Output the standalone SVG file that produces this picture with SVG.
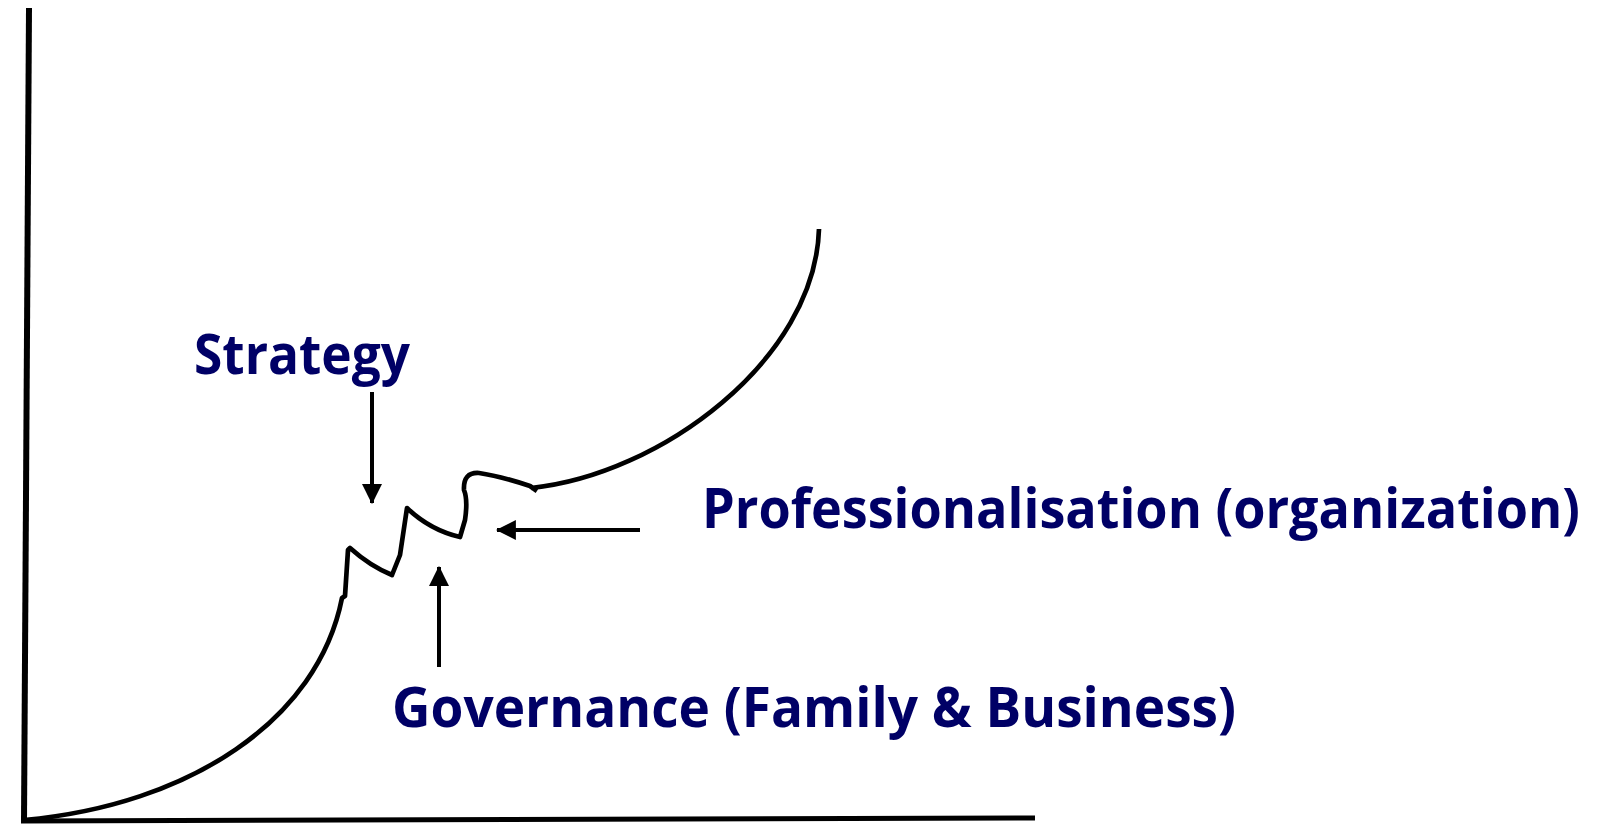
<svg xmlns="http://www.w3.org/2000/svg" width="1615" height="825" viewBox="0 0 1615 825">
<style>
.lbl{font-family:"Open Sans","Noto Sans","Liberation Sans",sans-serif;font-weight:700;font-size:56px;fill:#000066}
.ax{stroke:#000;fill:none;stroke-linecap:butt}
.cv{stroke:#000;stroke-width:4.7;fill:none;stroke-linejoin:round}
.ar{stroke:#000;stroke-width:4;fill:none}
</style>
<defs>
<marker id="ah" markerUnits="userSpaceOnUse" markerWidth="20" markerHeight="20" viewBox="0 0 18 18" refX="17" refY="9" orient="auto">
<path d="M0,0 L18,9 L0,18 Z" fill="#000"/>
</marker>
</defs>
<rect width="1615" height="825" fill="#fff"/>
<g id="axes">
<line class="ax" x1="29" y1="8" x2="24" y2="822" stroke-width="6"/>
<line class="ax" x1="21" y1="821" x2="1035" y2="818" stroke-width="5"/>
</g>
<g id="curve">
<path class="cv" d="M24,820 C190,805 318,720 342,598 L345,596 L348,550 L350,548 Q370,566 392,575 L400,555 L407,508 Q430,530 460,537 L465,520 Q468,500 464,490 Q463,472 479,473 Q500,476 530,486 L537,491 M531,488 C660,475 815,360 819,229"/>
</g>
<g id="connectors">
<line class="ar" x1="372" y1="392" x2="372" y2="503" marker-end="url(#ah)"/>
<line class="ar" x1="439" y1="667" x2="439" y2="567" marker-end="url(#ah)"/>
<line class="ar" x1="640" y1="530" x2="497" y2="530" marker-end="url(#ah)"/>
</g>
<g id="strategy"><text class="lbl" x="194" y="374" textLength="216" lengthAdjust="spacingAndGlyphs">Strategy</text></g>
<g id="professionalisation"><text class="lbl" x="702" y="528" textLength="878" lengthAdjust="spacingAndGlyphs">Professionalisation (organization)</text></g>
<g id="governance"><text class="lbl" x="392" y="727" textLength="844" lengthAdjust="spacingAndGlyphs">Governance (Family &amp; Business)</text></g>
</svg>
